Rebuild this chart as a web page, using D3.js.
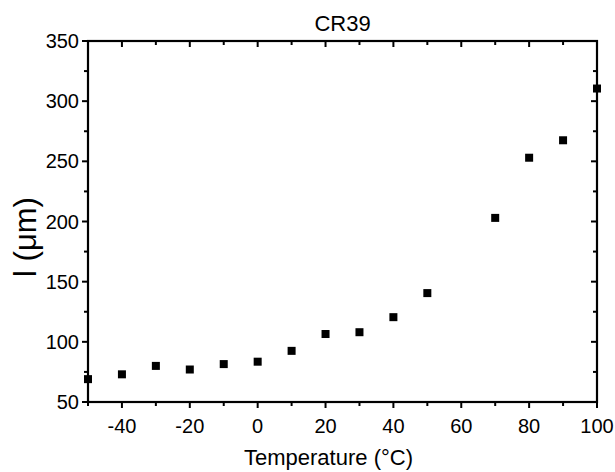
<!DOCTYPE html>
<html>
<head>
<meta charset="utf-8">
<script src="https://cdn.jsdelivr.net/npm/d3@7"></script>
<style>
  body { margin: 0; background: #fff; }
  text { font-family: "Liberation Sans", Arial, sans-serif; fill: #000; }
</style>
</head>
<body>
<svg id="chart" width="615" height="472"></svg>
<script>
// data
var temperature = [-50, -40, -30, -20, -10, 0, 10, 20, 30, 40, 50, 70, 80, 90, 100]
var lengthUm    = [69, 73, 80, 77, 81.5, 83.5, 92.5, 106.5, 108, 120.5, 140.5, 203, 253, 267.5, 310.5]

var xTicks = [-40, -20, 0, 20, 40, 60, 80, 100]
var yTicks = [50, 100, 150, 200, 250, 300, 350]

var margin = {left: 88, right: 18, top: 41, bottom: 70}
var width  = 615 - margin.left - margin.right
var height = 472 - margin.top - margin.bottom

var svg = d3.select('#chart')
var g = svg.append('g')
    .attr('transform', 'translate(' + margin.left + ',' + margin.top + ')')

var x = d3.scaleLinear().domain([-50, 100]).range([0, width])
var y = d3.scaleLinear().domain([50, 350]).range([height, 0])

var minorX = d3.range(-50, 101, 10)
var minorY = d3.range(50, 351, 25)

// frame
g.append('rect')
    .attr('width', width)
    .attr('height', height)
    .attr('fill', 'none')
    .attr('stroke', '#000')
    .attr('stroke-width', 2.2)

// bottom axis: ticks outward
var bottom = g.append('g').attr('transform', 'translate(0,' + height + ')')
bottom.selectAll('line')
    .data(minorX)
    .join('line')
    .attr('x1', d => x(d)).attr('x2', d => x(d))
    .attr('y1', 0)
    .attr('y2', d => d % 20 === 0 ? 6 : 4)
    .attr('stroke', '#000').attr('stroke-width', 2)
bottom.selectAll('text')
    .data(xTicks)
    .join('text')
    .attr('x', d => x(d))
    .attr('y', 31)
    .attr('text-anchor', 'middle')
    .style('font-size', '20px')
    .text(d => d)

// top axis: ticks inward
g.selectAll('line.top')
    .data(minorX)
    .join('line')
    .attr('class', 'top')
    .attr('x1', d => x(d)).attr('x2', d => x(d))
    .attr('y1', 0)
    .attr('y2', d => d % 20 === 0 ? 6 : 4)
    .attr('stroke', '#000').attr('stroke-width', 2)

// left axis: ticks outward
g.selectAll('line.left')
    .data(minorY)
    .join('line')
    .attr('class', 'left')
    .attr('y1', d => y(d)).attr('y2', d => y(d))
    .attr('x1', 0)
    .attr('x2', d => d % 50 === 0 ? -6 : -4)
    .attr('stroke', '#000').attr('stroke-width', 2)
g.selectAll('text.ylab')
    .data(yTicks)
    .join('text')
    .attr('class', 'ylab')
    .attr('x', -9)
    .attr('y', d => y(d) + 7)
    .attr('text-anchor', 'end')
    .style('font-size', '20px')
    .text(d => d)

// right axis: ticks inward
g.selectAll('line.right')
    .data(minorY)
    .join('line')
    .attr('class', 'right')
    .attr('y1', d => y(d)).attr('y2', d => y(d))
    .attr('x1', width)
    .attr('x2', d => width - (d % 50 === 0 ? 6 : 4))
    .attr('stroke', '#000').attr('stroke-width', 2)

// points
var pts = temperature.map((t, i) => ({t: t, v: lengthUm[i]}))
g.selectAll('rect.pt')
    .data(pts)
    .join('rect')
    .attr('class', 'pt')
    .attr('x', d => x(d.t) - 4)
    .attr('y', d => y(d.v) - 4)
    .attr('width', 8)
    .attr('height', 8)
    .attr('fill', '#000')

// labels
svg.append('text')
    .text('CR39')
    .attr('x', margin.left + width / 2)
    .attr('y', 31)
    .attr('text-anchor', 'middle')
    .style('font-size', '22px')

svg.append('text')
    .text('Temperature (°C)')
    .attr('x', margin.left + width / 2 - 14)
    .attr('y', 465)
    .attr('text-anchor', 'middle')
    .style('font-size', '22px')

svg.append('text')
    .text('l (μm)')
    .attr('transform', 'translate(36,237) rotate(-90)')
    .attr('text-anchor', 'middle')
    .style('font-size', '31px')
</script>
</body>
</html>
